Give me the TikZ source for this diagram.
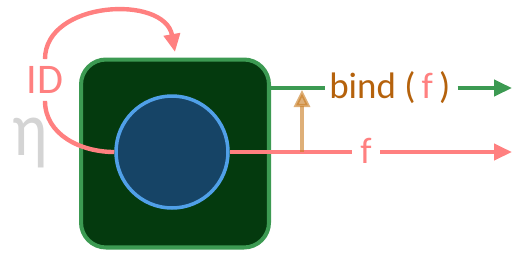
\documentclass[tikz,border=0pt]{standalone}
\usepackage{fontspec}
\setmainfont{Carlito}
\usetikzlibrary{arrows.meta}
\usetikzlibrary{positioning}

\definecolor{idred}{HTML}{FF8080}
\definecolor{boxgreen}{HTML}{3C9A52}
\definecolor{boxfill}{HTML}{043A0E}
\definecolor{ballblue}{HTML}{50A0E8}
\definecolor{ballfill}{HTML}{164466}
\definecolor{bindorange}{HTML}{B5620C}
\definecolor{liftorange}{HTML}{C87A1E}
\definecolor{etagrey}{HTML}{D4D4D4}

\begin{document}
\begin{tikzpicture}[x=0.02cm,y=0.02cm,
        every node/.style={font=\fontsize{21}{24}\selectfont},
        tip/.style={-{Triangle[length=3.6mm,width=3.2mm]}}]
        \useasboundingbox (0,0) rectangle (519,261);
        % monad box with the value inside
        \node[etagrey,font=\fontsize{44}{46}\selectfont,xscale=0.85,inner sep=0pt] (eta) at (30,118) {η};
        \node[draw=boxgreen,fill=boxfill,line width=2.3pt,rounded corners=0.5cm,minimum size=3.76cm] (box) at (175,107.5) {};
        \node[circle,draw=ballblue,fill=ballfill,line width=2pt,minimum size=2.24cm] (ball) at (172,109) {};
        % labels
        \node[idred,font=\fontsize{24}{26}\selectfont,inner ysep=4pt] (id) at (45,181) {ID};
        \node[bindorange,inner sep=0pt,anchor=west] (bind) at (329,173) {bind (\,\textcolor{idred}{f}\,)};
        \node[idred,inner sep=0pt,minimum width=0.56cm] (f) at (366,110) {f};
        \coordinate (entry) at (175,209);
        \coordinate (bindout) at (512,173);
        \coordinate (fout) at (512,109);
        \coordinate (liftfoot) at (302,109);
        \coordinate (lifttop) at (302,171);
        \begin{scope}[line width=2.5pt]
        \draw[idred] (ball.west) to[out=180,in=270] (id.south);
        \draw[idred,tip] (id.north) to[out=90,in=100,looseness=1.15] (entry);
        \draw[idred] (ball.east) -- (ball.east -| f.west);
        \draw[idred,tip] (f.east |- fout) -- (fout);
        \draw[boxgreen,shorten >=2pt] (box.east |- bind.west) -- (bind.west);
        \draw[boxgreen,tip,shorten <=4pt] (bind.east) -- (bindout);
        \end{scope}
        \draw[liftorange,opacity=0.6,line width=1.8pt,-{Triangle[length=3.4mm,width=3.2mm]}] (liftfoot) -- (lifttop);
\end{tikzpicture}
\end{document}
